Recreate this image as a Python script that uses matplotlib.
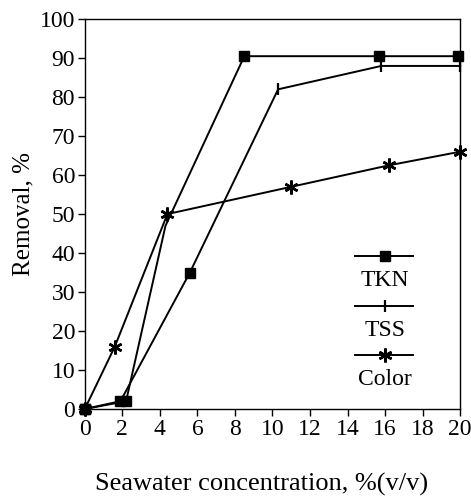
import matplotlib
matplotlib.use('Agg')
import matplotlib.pyplot as plt
from matplotlib.lines import Line2D

plt.rcParams['font.family'] = ['Liberation Serif', 'DejaVu Serif']

# Data
tkn_x = [0, 2.2, 4.3, 8.5, 15.7, 19.9]
tkn_y = [0, 2, 47, 90.5, 90.5, 90.5]

tss_x = [0, 1.9, 5.6, 10.3, 15.8, 20]
tss_y = [0, 2, 35, 82, 88, 88]

color_x = [0, 1.6, 4.4, 11.0, 16.2, 20]
color_y = [0, 16, 50, 57, 62.5, 66]

xticks = list(range(0, 21, 2))
yticks = list(range(0, 101, 10))

fig = plt.figure(figsize=(4.71, 5.04), dpi=100)
ax = fig.add_axes([0.180, 0.1885, 0.797, 0.7735])

kw = dict(color='black', lw=1.4, clip_on=False)
ax.plot(tkn_x, tkn_y, marker='s', ms=7.5, markevery=[0, 1, 3, 4, 5], **kw)
ax.plot(tss_x, tss_y, **kw)
ax.plot(tss_x, tss_y, ls='none', marker='s', ms=7.5, markevery=[0, 1, 2], color='black', clip_on=False)
ax.plot(tss_x, tss_y, ls='none', marker='|', ms=9, mew=1.6, markevery=[3, 4, 5], color='black', clip_on=False)
ax.plot(color_x, color_y, marker=(6, 2, 0), ms=10, mew=1.8, **kw)

ax.set_xlim(0, 20)
ax.set_ylim(0, 100)
ax.set_xticks(xticks)
ax.set_yticks(yticks)
ax.tick_params(direction='out', length=5, width=1, labelsize=17, pad=2)
for s in ax.spines.values():
    s.set_linewidth(1)

ax.set_ylabel('Removal, %', fontsize=18, labelpad=4)
ax.set_xlabel('Seawater concentration, %(v/v)', fontsize=19)
ax.xaxis.set_label_coords(0.47, -0.163)

# legend: handle line with label underneath
leg = [('TKN', dict(marker='s', ms=7)),
       ('TSS', dict(marker='|', ms=9, mew=1.6)),
       ('Color', dict(marker=(6, 2, 0), ms=10, mew=1.8))]
for i, (lab, mk) in enumerate(leg):
    yy = 0.392 - i * 0.127
    ax.add_line(Line2D([0.72, 0.80, 0.875], [yy, yy, yy], transform=ax.transAxes,
                       color='black', lw=1.4, markevery=[1], **mk))
    ax.text(0.80, yy - 0.036, lab, transform=ax.transAxes, ha='center', va='top',
            fontsize=17)

fig.savefig('out.png', dpi=100)
